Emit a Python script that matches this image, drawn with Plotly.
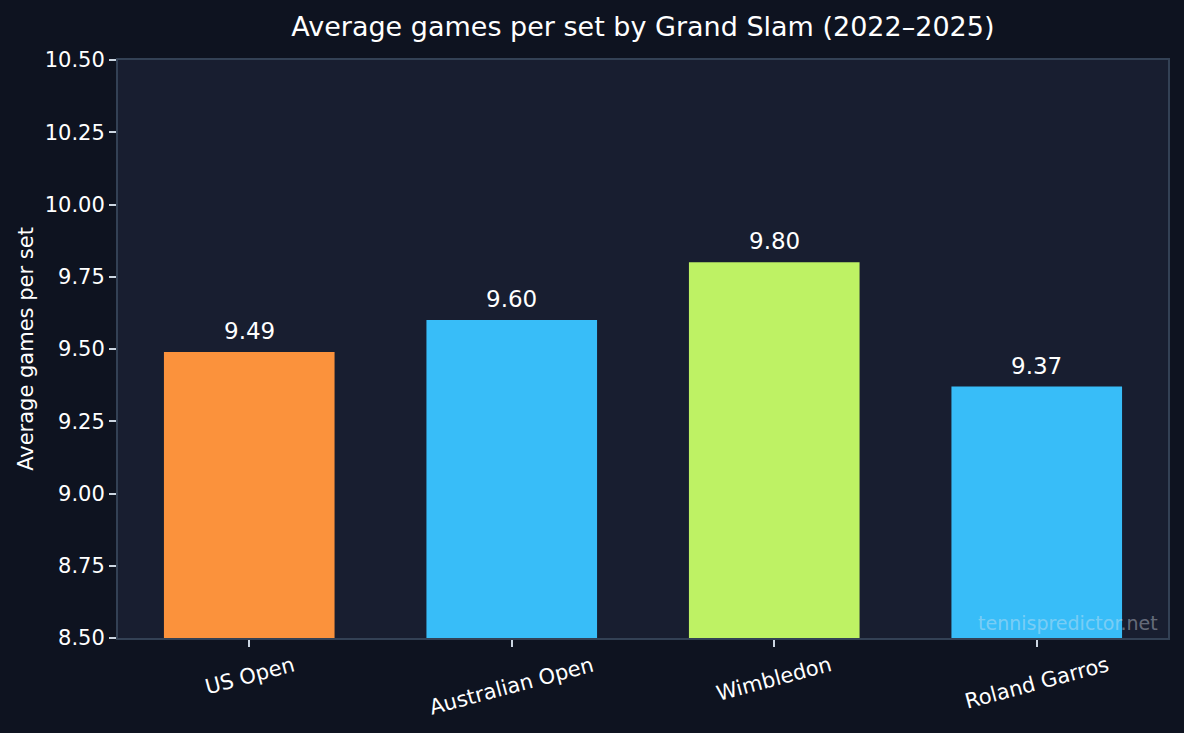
import plotly.graph_objects as go

categories = ["US Open", "Australian Open", "Wimbledon", "Roland Garros"]
values = [9.49, 9.60, 9.80, 9.37]
bar_colors = ["#fb923c", "#38bdf8", "#bef264", "#38bdf8"]
value_labels = ["9.49", "9.60", "9.80", "9.37"]
y_ticks = [8.5, 8.75, 9.0, 9.25, 9.5, 9.75, 10.0, 10.25, 10.5]
y_tick_labels = ["8.50", "8.75", "9.00", "9.25", "9.50", "9.75", "10.00", "10.25", "10.50"]

FONT = "DejaVu Sans"
fig = go.Figure()
fig.add_trace(go.Bar(
    x=categories, y=values, marker=dict(color=bar_colors, line=dict(width=0)),
    width=0.65, hoverinfo="skip",
))

for c, v, t in zip(categories, values, value_labels):
    fig.add_annotation(x=c, y=v, text=t, showarrow=False, yanchor="bottom",
                       yshift=6, font=dict(family=FONT, size=23, color="#ffffff"))

for c in categories:
    fig.add_annotation(x=c, y=0, yref="paper", text=c, showarrow=False,
                       xanchor="center", yanchor="top", yshift=-12, textangle=-15,
                       font=dict(family=FONT, size=21, color="#ffffff"))

fig.add_annotation(x=1, y=0, xref="paper", yref="paper", xanchor="right", yanchor="bottom",
                   xshift=-8, yshift=2, text="tennispredictor.net", showarrow=False,
                   font=dict(family=FONT, size=19, color="rgba(226,232,240,0.4)"))

fig.update_layout(
    width=1184, height=733,
    margin=dict(l=118, r=16, t=60, b=95),
    paper_bgcolor="#0e1320",
    plot_bgcolor="#181e30",
    showlegend=False,
    bargap=0.35,
    title=dict(text="Average games per set by Grand Slam (2022–2025)", x=0.543, xanchor="center",
               y=0.964, yanchor="middle",
               font=dict(family=FONT, size=27, color="#ffffff")),
    font=dict(family=FONT, color="#ffffff"),
)
fig.update_xaxes(
    range=[-0.5, 3.5], showgrid=False, zeroline=False,
    showline=True, linecolor="#334155", linewidth=2, mirror=True,
    ticks="outside", ticklen=7, tickwidth=2, tickcolor="#cbd5e1",
    showticklabels=False,
)
fig.update_yaxes(
    range=[8.5, 10.5], tickvals=y_ticks, ticktext=y_tick_labels,
    showgrid=False, zeroline=False,
    showline=True, linecolor="#334155", linewidth=2, mirror=True,
    ticks="outside", ticklen=7, tickwidth=2, tickcolor="#cbd5e1",
    tickfont=dict(family=FONT, size=21, color="#ffffff"),
    title=dict(text="Average games per set", standoff=5,
               font=dict(family=FONT, size=21, color="#ffffff")),
)
fig.write_html("out.html")
